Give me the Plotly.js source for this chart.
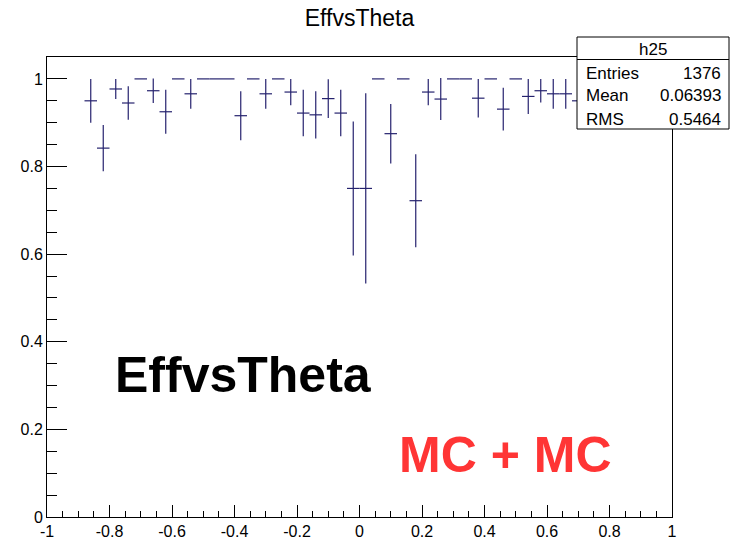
<!DOCTYPE html>
<html>
<head>
<meta charset="utf-8">
<script src="https://cdn.plot.ly/plotly-3.0.1.min.js"></script>
<style>
  html, body { margin: 0; padding: 0; background: #fff; }
  #plot { width: 740px; height: 540px; }
</style>
</head>
<body>
<div id="plot"></div>
<script>
// Efficiency vs theta: bin centres, efficiency and binomial error per filled bin
const binWidth = 0.04;
const theta = [
  -0.86, -0.82, -0.78, -0.74, -0.70, -0.66, -0.62, -0.58, -0.54, -0.50,
  -0.46, -0.42, -0.38, -0.34, -0.30, -0.26, -0.22, -0.18, -0.14, -0.10,
  -0.06, -0.02, 0.02, 0.06, 0.10, 0.14, 0.18, 0.22, 0.26, 0.30,
  0.34, 0.38, 0.42, 0.46, 0.50, 0.54, 0.58, 0.62, 0.66, 0.70
];
const eff = [
  0.950, 0.842, 0.977, 0.945, 1.000, 0.973, 0.925, 1.000, 0.966, 1.000,
  1.000, 1.000, 0.916, 1.000, 0.966, 1.000, 0.970, 0.922, 0.918, 0.955,
  0.922, 0.750, 0.750, 1.000, 0.875, 1.000, 0.722, 0.970, 0.954, 1.000,
  1.000, 0.956, 1.000, 0.931, 1.000, 0.960, 0.973, 0.966, 0.966, 0.950
];
const effErr = [
  0.050, 0.053, 0.023, 0.038, 0.000, 0.028, 0.050, 0.000, 0.034, 0.000,
  0.000, 0.000, 0.056, 0.000, 0.034, 0.000, 0.030, 0.053, 0.054, 0.044,
  0.053, 0.153, 0.217, 0.000, 0.068, 0.000, 0.106, 0.030, 0.048, 0.000,
  0.000, 0.044, 0.000, 0.049, 0.000, 0.040, 0.027, 0.034, 0.034, 0.050
];

// Axis tick labels (plain hyphen minus)
const xTickVals = [-1, -0.8, -0.6, -0.4, -0.2, 0, 0.2, 0.4, 0.6, 0.8, 1];
const xTickText = ["-1", "-0.8", "-0.6", "-0.4", "-0.2", "0", "0.2", "0.4", "0.6", "0.8", "1"];
const yTickVals = [0, 0.2, 0.4, 0.6, 0.8, 1];
const yTickText = ["0", "0.2", "0.4", "0.6", "0.8", "1"];

// Statistics box contents
const statName = "h25";
const statLabels = ["Entries", "Mean", "RMS"];
const statValues = ["1376", "0.06393", "0.5464"];

const lineColor = "#25226e";
const font = "Liberation Sans, Arial, Helvetica, sans-serif";

const trace = {
  type: "scatter",
  mode: "markers",
  x: theta,
  y: eff,
  marker: { size: 0.1, color: lineColor, opacity: 0 },
  error_y: { type: "data", array: effErr, symmetric: true, visible: true,
             color: lineColor, thickness: 1.2, width: 0 },
  error_x: { type: "constant", value: binWidth / 2, visible: true,
             color: lineColor, thickness: 1.2, width: 0 },
  hoverinfo: "skip",
  showlegend: false
};

// plot area spans pixels x 47..672, y 57..517
const px = v => (v - 47) / 625;
const py = v => (517 - v) / 460;

const statRows = [73, 96, 119];
const statFont = { family: font, size: 17, color: "#000" };
const annotations = [
  { text: "EffvsTheta", x: px(113), y: py(375), xref: "paper", yref: "paper",
    xanchor: "left", yanchor: "middle", showarrow: false,
    font: { family: font, size: 50, color: "#000", weight: "bold" } },
  { text: "MC + MC", x: px(397), y: py(455), xref: "paper", yref: "paper",
    xanchor: "left", yanchor: "middle", showarrow: false,
    font: { family: font, size: 50, color: "#ff3535", weight: "bold" } },
  { text: statName, x: px(653), y: py(49), xref: "paper", yref: "paper",
    xanchor: "center", yanchor: "middle", showarrow: false, font: statFont }
];
statLabels.forEach((lab, k) => {
  annotations.push({ text: lab, x: px(584), y: py(statRows[k]), xref: "paper", yref: "paper",
    xanchor: "left", yanchor: "middle", showarrow: false, font: statFont });
  annotations.push({ text: statValues[k], x: px(723), y: py(statRows[k]), xref: "paper", yref: "paper",
    xanchor: "right", yanchor: "middle", showarrow: false, font: statFont });
});

const shapes = [
  { type: "rect", xref: "paper", yref: "paper", layer: "above",
    x0: px(577), x1: px(729), y0: py(129), y1: py(37),
    fillcolor: "#fff", line: { color: "#000", width: 1 } },
  { type: "line", xref: "paper", yref: "paper", layer: "above",
    x0: px(577), x1: px(729), y0: py(59.5), y1: py(59.5),
    line: { color: "#000", width: 1 } }
];

const layout = {
  width: 740, height: 540,
  margin: { l: 47, r: 68, t: 57, b: 23, pad: 0 },
  paper_bgcolor: "#fff", plot_bgcolor: "#fff",
  font: { family: font, size: 16, color: "#000" },
  title: { text: "EffvsTheta", x: 0.5, xref: "paper", xanchor: "center",
           y: 1 - 18 / 540, yanchor: "middle",
           font: { family: font, size: 23, color: "#000" } },
  xaxis: {
    range: [-1, 1], tickmode: "array", tickvals: xTickVals, ticktext: xTickText,
    ticks: "inside", ticklen: 12, tickcolor: "#000", tickwidth: 1,
    minor: { ticks: "inside", dtick: 0.05, tick0: -1, ticklen: 6, tickcolor: "#000", tickwidth: 1, showgrid: false },
    showline: true, linecolor: "#000", linewidth: 1, mirror: true,
    showgrid: false, zeroline: false,
    tickfont: { family: font, size: 16, color: "#000" }
  },
  yaxis: {
    range: [0, 1.05], tickmode: "array", tickvals: yTickVals, ticktext: yTickText,
    ticks: "inside", ticklen: 20, tickcolor: "#000", tickwidth: 1,
    minor: { ticks: "inside", dtick: 0.05, tick0: 0, ticklen: 10, tickcolor: "#000", tickwidth: 1, showgrid: false },
    showline: true, linecolor: "#000", linewidth: 1, mirror: true,
    showgrid: false, zeroline: false,
    tickfont: { family: font, size: 16, color: "#000" }
  },
  annotations: annotations,
  shapes: shapes
};

Plotly.newPlot("plot", [trace], layout, { displayModeBar: false, staticPlot: true });
</script>
</body>
</html>
